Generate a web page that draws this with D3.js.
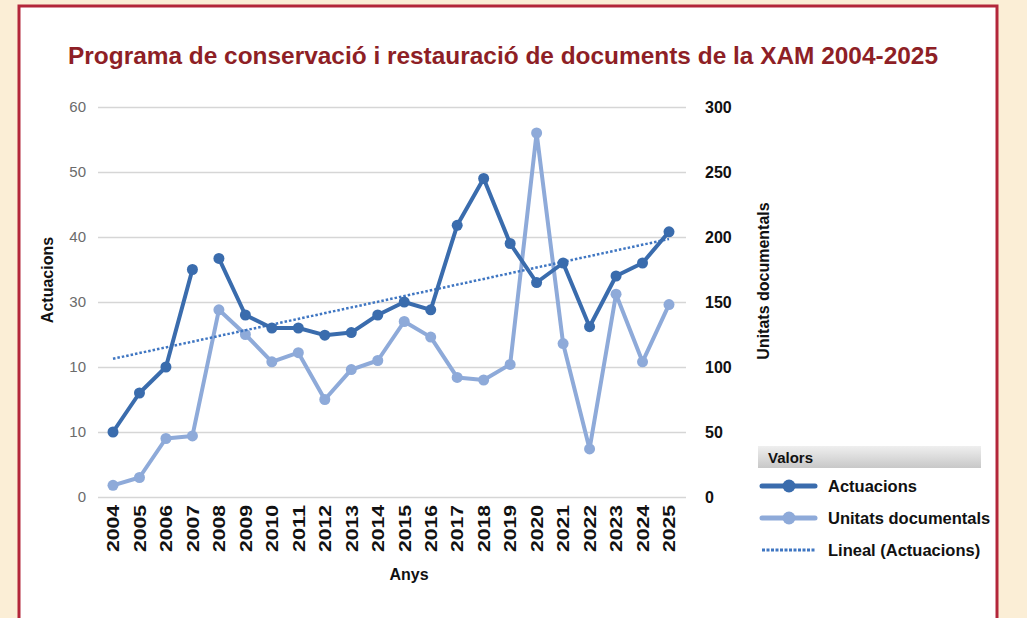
<!DOCTYPE html>
<html>
<head>
<meta charset="utf-8">
<script src="https://cdn.jsdelivr.net/npm/d3@7"></script>
<style>
  body { margin: 0; background: #fbeed6; }
  svg { display: block; }
</style>
</head>
<body>
<div id="chart"></div>
<script>
const width = 1027;
const height = 618;

// chart values
const years = [2004, 2005, 2006, 2007, 2008, 2009, 2010, 2011, 2012, 2013, 2014,
               2015, 2016, 2017, 2018, 2019, 2020, 2021, 2022, 2023, 2024, 2025];
const actuacions = [10, 16, 20, 35, 36.7, 28, 26, 26, 24.9, 25.3, 28,
                    30, 28.8, 41.8, 49, 39, 33, 36, 26.2, 34, 36, 40.8];
const unitats = [9, 15, 45, 47, 144, 125, 104, 111, 75, 98, 105,
                 135, 123, 92, 90, 102, 280, 118, 37, 156, 104, 148];
// the Actuacions line is not drawn between these years and the next
const actuacionsBreakAfter = [2007];
const leftTicks = [0, 10, 20, 30, 40, 50, 60];
const leftTickLabels = ["0", "10", "10", "30", "40", "50", "60"];
const rightTicks = [0, 50, 100, 150, 200, 250, 300];

const FONT = "'Liberation Sans', Arial, Helvetica, sans-serif";
const DARK_BLUE = "#3a6cad";
const LIGHT_BLUE = "#8eaad9";
const TREND_BLUE = "#3f76c2";

const svg = d3.select("#chart").append("svg")
    .attr("width", width)
    .attr("height", height);

// white panel with red frame
svg.append("rect")
    .attr("x", 19).attr("y", 6)
    .attr("width", 978).attr("height", 640)
    .attr("fill", "white")
    .attr("stroke", "#b3263a")
    .attr("stroke-width", 3);

svg.append("text")
    .attr("x", 68).attr("y", 64)
    .attr("fill", "#8e1f26")
    .attr("font-family", FONT)
    .attr("font-weight", "bold")
    .attr("font-size", "24px")
    .attr("textLength", 870)
    .attr("lengthAdjust", "spacingAndGlyphs")
    .text("Programa de conservació i restauració de documents de la XAM 2004-2025");

// scales
const xScale = d3.scalePoint().domain(years).range([113, 669]);
const yLeft = d3.scaleLinear().domain([0, 60]).range([497, 107]);
const yRight = d3.scaleLinear().domain([0, 300]).range([497, 107]);

// gridlines
svg.append("g")
    .attr("transform", "translate(98,0)")
    .call(d3.axisLeft(yLeft).tickValues(leftTicks).tickSize(-588).tickFormat(""))
    .call(g => g.select(".domain").remove())
    .call(g => g.selectAll(".tick line").attr("stroke", "#d6d6d6").attr("stroke-width", 1.5));

// left axis labels
svg.append("g")
    .attr("transform", "translate(98,0)")
    .call(d3.axisLeft(yLeft).tickValues(leftTicks).tickSize(0).tickPadding(12)
        .tickFormat((d, i) => leftTickLabels[i]))
    .call(g => g.select(".domain").remove())
    .call(g => g.selectAll("text")
        .attr("fill", "#6b6b6b")
        .attr("font-family", FONT)
        .attr("font-size", "15px"));

// right axis labels
svg.append("g")
    .attr("transform", "translate(686,0)")
    .call(d3.axisRight(yRight).tickValues(rightTicks).tickSize(0).tickPadding(19))
    .call(g => g.select(".domain").remove())
    .call(g => g.selectAll("text")
        .attr("fill", "#111")
        .attr("font-family", FONT)
        .attr("font-weight", "bold")
        .attr("font-size", "16px"));

// x axis labels (rotated)
svg.append("g")
    .attr("transform", "translate(0,505)")
    .call(d3.axisBottom(xScale).tickSize(0).tickPadding(0))
    .call(g => g.select(".domain").remove())
    .call(g => g.selectAll("text")
        .attr("transform", "rotate(-90)")
        .attr("text-anchor", "end")
        .attr("x", 0).attr("y", 0)
        .attr("dy", "0.36em")
        .attr("fill", "#111")
        .attr("font-family", FONT)
        .attr("font-weight", "bold")
        .attr("font-size", "16px")
        .attr("textLength", 47)
        .attr("lengthAdjust", "spacingAndGlyphs"));

// axis titles
svg.append("text")
    .attr("transform", "translate(53,280) rotate(-90)")
    .attr("text-anchor", "middle")
    .attr("font-family", FONT).attr("font-weight", "bold").attr("font-size", "16px")
    .attr("fill", "#111")
    .text("Actuacions");

svg.append("text")
    .attr("transform", "translate(769,281) rotate(-90)")
    .attr("text-anchor", "middle")
    .attr("font-family", FONT).attr("font-weight", "bold").attr("font-size", "16px")
    .attr("fill", "#111")
    .text("Unitats documentals");

svg.append("text")
    .attr("x", 409).attr("y", 580)
    .attr("text-anchor", "middle")
    .attr("font-family", FONT).attr("font-weight", "bold").attr("font-size", "16px")
    .attr("fill", "#111")
    .text("Anys");

// linear trend of Actuacions (least squares)
const xs = years.map((d, i) => i);
const mx = d3.mean(xs), my = d3.mean(actuacions);
const slope = d3.sum(xs, (x, i) => (x - mx) * (actuacions[i] - my)) / d3.sum(xs, x => (x - mx) ** 2);
const intercept = my - slope * mx;

const unitatsData = years.map((y, i) => ({ year: y, value: unitats[i] }));
const actData = years.map((y, i) => ({ year: y, value: actuacions[i] }));

// Actuacions split in segments at the breaks
const actSegments = [[]];
actData.forEach(d => {
    actSegments[actSegments.length - 1].push(d);
    if (actuacionsBreakAfter.includes(d.year)) actSegments.push([]);
});

const lineLeft = d3.line().x(d => xScale(d.year)).y(d => yLeft(d.value));
const lineRight = d3.line().x(d => xScale(d.year)).y(d => yRight(d.value));

// Unitats documentals (right axis)
svg.append("path")
    .datum(unitatsData)
    .attr("d", lineRight)
    .attr("fill", "none")
    .attr("stroke", LIGHT_BLUE)
    .attr("stroke-width", 4)
    .attr("stroke-linejoin", "round");

svg.append("g").selectAll("circle")
    .data(unitatsData)
    .join("circle")
    .attr("cx", d => xScale(d.year))
    .attr("cy", d => yRight(d.value))
    .attr("r", 5.5)
    .attr("fill", LIGHT_BLUE);

// trend line
svg.append("line")
    .attr("x1", xScale(years[0])).attr("y1", yLeft(intercept))
    .attr("x2", xScale(years[years.length - 1])).attr("y2", yLeft(intercept + slope * (years.length - 1)))
    .attr("stroke", TREND_BLUE)
    .attr("stroke-width", 2.5)
    .attr("stroke-dasharray", "2.5,2");

// Actuacions (left axis)
svg.append("g").selectAll("path")
    .data(actSegments)
    .join("path")
    .attr("d", lineLeft)
    .attr("fill", "none")
    .attr("stroke", DARK_BLUE)
    .attr("stroke-width", 4)
    .attr("stroke-linejoin", "round");

svg.append("g").selectAll("circle")
    .data(actData)
    .join("circle")
    .attr("cx", d => xScale(d.year))
    .attr("cy", d => yLeft(d.value))
    .attr("r", 5.5)
    .attr("fill", DARK_BLUE);

// legend
const defs = svg.append("defs");
const grad = defs.append("linearGradient")
    .attr("id", "legendHead").attr("x1", 0).attr("y1", 0).attr("x2", 0).attr("y2", 1);
grad.append("stop").attr("offset", "0%").attr("stop-color", "#efefef");
grad.append("stop").attr("offset", "100%").attr("stop-color", "#c8c8c8");

const legend = svg.append("g").attr("transform", "translate(758,446)");
legend.append("rect")
    .attr("width", 223).attr("height", 22)
    .attr("fill", "url(#legendHead)");
legend.append("text")
    .attr("x", 10).attr("y", 17)
    .attr("font-family", FONT).attr("font-weight", "bold").attr("font-size", "15px")
    .attr("fill", "#111")
    .text("Valors");

const legendItems = [
    { label: "Actuacions", color: DARK_BLUE, dot: true },
    { label: "Unitats documentals", color: LIGHT_BLUE, dot: true },
    { label: "Lineal (Actuacions)", color: TREND_BLUE, dot: false }
];

const entries = legend.selectAll("g.entry")
    .data(legendItems)
    .join("g")
    .attr("class", "entry")
    .attr("transform", (d, i) => `translate(0, ${40 + i * 32})`);

entries.append("line")
    .attr("x1", 4).attr("x2", 57)
    .attr("stroke", d => d.color)
    .attr("stroke-width", d => d.dot ? 5 : 3)
    .attr("stroke-linecap", d => d.dot ? "round" : "butt")
    .attr("stroke-dasharray", d => d.dot ? null : "3,1.5");

entries.filter(d => d.dot).append("circle")
    .attr("cx", 31).attr("r", 6.5)
    .attr("fill", d => d.color);

entries.append("text")
    .attr("x", 70).attr("y", 6)
    .attr("font-family", FONT).attr("font-weight", "bold").attr("font-size", "16.5px")
    .attr("fill", "#111")
    .text(d => d.label);
</script>
</body>
</html>
